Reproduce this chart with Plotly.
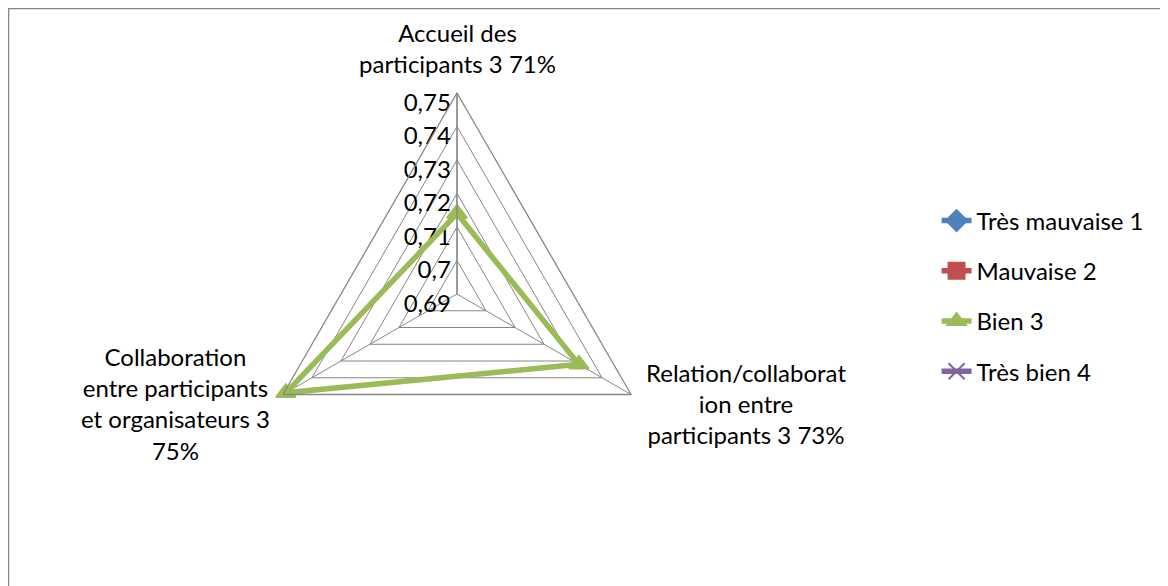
import plotly.graph_objects as go

categories = [
    "Accueil des participants 3 71%",
    "Relation/collaboration entre participants 3 73%",
    "Collaboration entre participants et organisateurs 3 75%",
]
category_labels = [
    "Accueil des<br>participants 3 71%",
    "Relation/collaborat<br>ion entre<br>participants 3 73%",
    "Collaboration<br>entre participants<br>et organisateurs 3<br>75%",
]
series_names = ["Très mauvaise 1", "Mauvaise 2", "Bien 3", "Très bien 4"]
tres_mauvaise = [None, None, None]
mauvaise = [None, None, None]
bien = [0.714, 0.732, 0.749]
tres_bien = [None, None, None]
radial_ticks = [0.69, 0.70, 0.71, 0.72, 0.73, 0.74, 0.75]

colors = ["#4F81BD", "#C0504D", "#9BBB59", "#8064A2"]
symbols = ["diamond", "square", "triangle-up", "x-thin"]
values = [tres_mauvaise, mauvaise, bien, tres_bien]

FONT = "Lato"
FS = 24
W, H = 1168, 586
fig = go.Figure()

# radial tick labels drawn on the top spoke, to its left, horizontal
fig.add_trace(go.Scatterpolar(
    r=radial_ticks,
    theta=[categories[0]] * len(radial_ticks),
    mode="text",
    text=[f"{v:g}".replace(".", ",") + "\u00a0" for v in radial_ticks],
    textposition="bottom left",
    textfont=dict(size=FS, color="black", family=FONT),
    cliponaxis=False,
    showlegend=False, hoverinfo="skip",
))

for i, (name, vals) in enumerate(zip(series_names, values)):
    fig.add_trace(go.Scatterpolar(
        r=vals + [vals[0]],
        theta=categories + [categories[0]],
        mode="lines+markers",
        name=name,
        legendgroup=name,
        line=dict(color=colors[i], width=5.5),
        marker=dict(symbol=symbols[i], size=17, color=colors[i],
                    line=dict(color=colors[i], width=2)),
        connectgaps=False,
        cliponaxis=False,
    ))

# category labels placed around the triangle, centred like the original
label_pos = [(449, 40), (738, 395), (167, 396)]
annotations = []
for lab, (px, py) in zip(category_labels, label_pos):
    annotations.append(dict(text=lab, x=px/W, y=1-py/H, xref="paper", yref="paper",
                            showarrow=False, align="center", xanchor="center", yanchor="middle",
                            font=dict(size=FS)))

fig.update_layout(
    width=W, height=H,
    margin=dict(l=0, r=0, t=0, b=0),
    paper_bgcolor="white",
    separators=", ",
    font=dict(family=FONT, size=FS, color="black"),
    polar=dict(
        domain=dict(x=[248/W, 650/W], y=[99/H, 501/H]),
        bgcolor="white",
        gridshape="linear",
        radialaxis=dict(
            range=[0.68999, 0.75], tickvals=radial_ticks, angle=90,
            showticklabels=False,
            showline=True, linecolor="#868686", linewidth=1.3,
            gridcolor="#868686", gridwidth=1.3,
            ticks="",
        ),
        angularaxis=dict(
            rotation=90, direction="clockwise",
            showline=True, linecolor="#868686", linewidth=1.3,
            gridcolor="#868686", gridwidth=1.3,
            ticks="", showticklabels=False,
        ),
    ),
    legend=dict(
        x=0.795, y=0.5085, xanchor="left", yanchor="middle",
        font=dict(size=FS), tracegroupgap=16, traceorder="grouped",
        bgcolor="rgba(0,0,0,0)",
    ),
    annotations=annotations,
    shapes=[dict(type="rect", xref="paper", yref="paper",
                 x0=0, x1=1.02, y0=-0.02, y1=1,
                 line=dict(color="#868686", width=2.5), fillcolor="rgba(0,0,0,0)")],
)

fig.write_html("out.html")
